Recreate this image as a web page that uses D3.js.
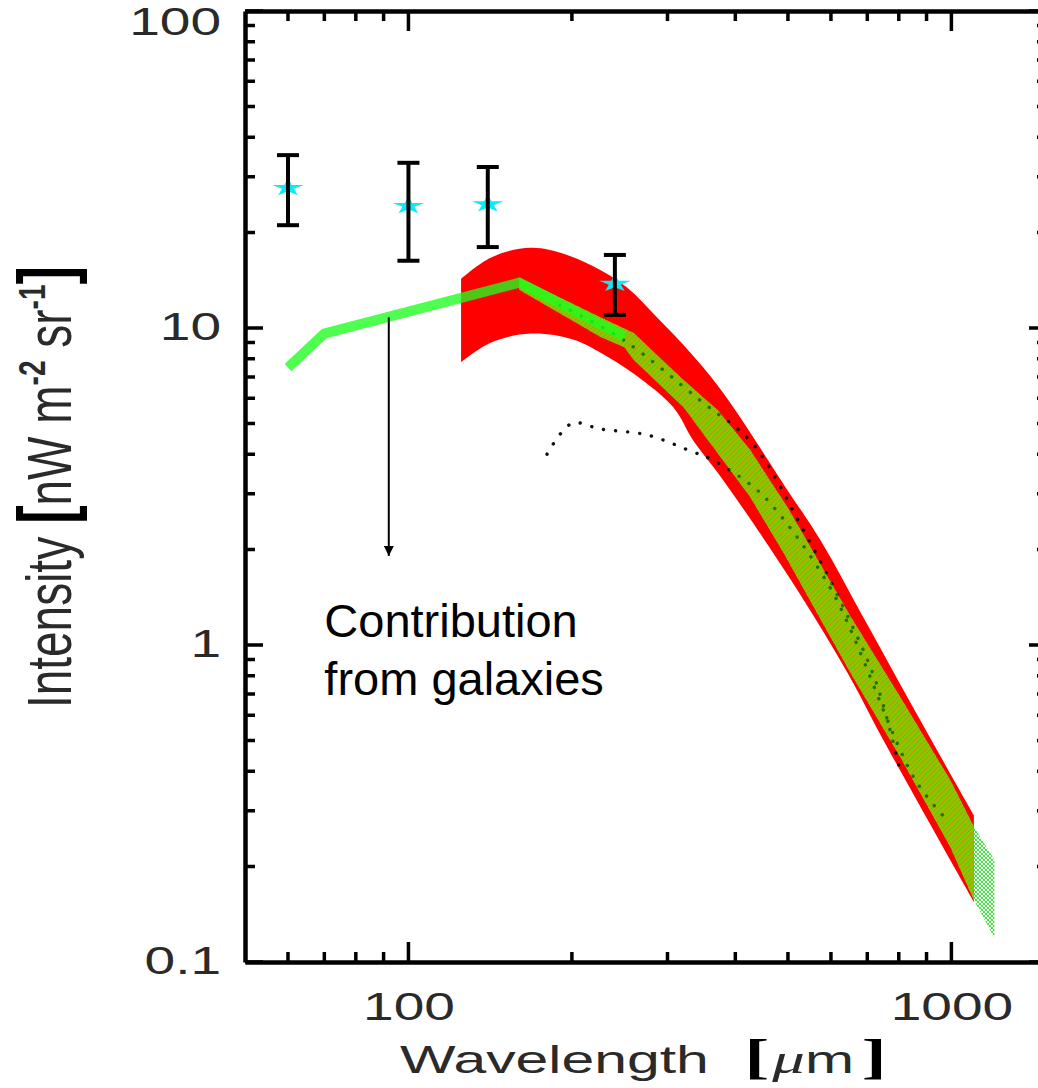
<!DOCTYPE html>
<html>
<head>
<meta charset="utf-8">
<script src="https://cdn.jsdelivr.net/npm/d3@7"></script>
<style>
  body { margin: 0; background: #fff; }
  svg { display: block; overflow: hidden; }
</style>
</head>
<body>
<div id="chart"></div>
<script>
// axis ticks
const xMajor = [100, 1000]
const xMinor = [60, 70, 80, 90, 200, 300, 400, 500, 600, 700, 800, 900]
const yMajor = [0.1, 1, 10, 100]
const yMinor = [0.2, 0.3, 0.4, 0.5, 0.6, 0.7, 0.8, 0.9, 2, 3, 4, 5, 6, 7, 8, 9, 20, 30, 40, 50, 60, 70, 80, 90]

// measured points with error bars
const obsWave = [60, 100, 140, 240]
const obsValue = [27.7, 24.3, 24.6, 13.8]
const obsHigh = [35.1, 33.2, 32.2, 17.0]
const obsLow = [21.1, 16.3, 18.0, 11.0]

// contribution from galaxies (thick green line)
const galWave = [60, 70, 160, 250]
const galValue = [7.5, 9.6, 13.9, 9.4]

// red band, upper and lower edge
const redHighWave = [125, 142, 168, 196, 226, 253, 287, 331, 380, 499, 574, 700, 866, 1100]
const redHigh = [14.3, 16.7, 17.9, 17.0, 15.2, 13.4, 10.8, 8.34, 6.24, 3.08, 2.14, 1.16, 0.60, 0.29]
const redLowWave = [125, 142, 168, 201, 233, 268, 308, 335, 371, 426, 527, 644, 750, 1100]
const redLow = [7.8, 9.0, 9.6, 9.2, 8.1, 6.9, 5.6, 4.4, 3.5, 2.5, 1.44, 0.816, 0.50, 0.155]

// green hatched band
const bandHighWave = [160, 226, 260, 321, 371, 426, 499, 652, 805, 995, 1100, 1200]
const bandHigh = [14.4, 10.8, 9.64, 6.86, 5.51, 4.12, 2.72, 1.23, 0.685, 0.375, 0.267, 0.21]
const bandLowWave = [160, 226, 250, 260, 321, 371, 426, 491, 652, 805, 995, 1100, 1200]
const bandLow = [13.2, 9.37, 8.7, 7.93, 5.63, 4.03, 2.93, 1.95, 0.816, 0.443, 0.231, 0.157, 0.119]

// dotted model curves
const dotAWave = [190, 248, 345, 431, 527, 652, 731, 805]
const dotAValue = [11.8, 9.2, 5.9, 4.3, 2.4, 1.18, 0.74, 0.40]
const dotBWave = [180, 200, 226, 275, 330, 367, 427, 464, 600, 858, 983]
const dotBValue = [4.0, 5.0, 4.8, 4.6, 4.1, 3.8, 3.2, 2.8, 1.5, 0.375, 0.28]

// arrow
const arrowWave = 92
const arrowFrom = 10.8
const arrowTo = 1.91

const width = 1038
const height = 1088
const frame = { left: 245, right: 1047, top: 11, bottom: 962 }
const axisFont = 'Liberation Sans, Arial, sans-serif'

const x = d3.scaleLog().domain([50, 1500]).range([frame.left, frame.right])
const y = d3.scaleLog().domain([0.1, 100]).range([frame.bottom, frame.top])

const svg = d3.select('#chart')
  .append('svg')
  .attr('width', width)
  .attr('height', height)

const line = curve => d3.line().x(d => x(d[0])).y(d => y(d[1])).curve(curve)

function bandPath(hiWave, hi, loWave, lo, curve) {
  const top = line(curve)(d3.zip(hiWave, hi))
  const bottom = line(curve)(d3.zip(loWave, lo).reverse())
  return top + 'L' + bottom.slice(1) + 'Z'
}

const redD = bandPath(redHighWave, redHigh, redLowWave, redLow, d3.curveCatmullRom)
const bandD = bandPath(bandHighWave, bandHigh, bandLowWave, bandLow, d3.curveLinear)

const defs = svg.append('defs')
const lattice = defs.append('pattern')
  .attr('id', 'lattice')
  .attr('patternUnits', 'userSpaceOnUse')
  .attr('width', 4)
  .attr('height', 4)
lattice.append('path')
  .attr('d', 'M-1,1 L1,-1 M0,4 L4,0 M3,5 L5,3 M-1,3 L1,5 M0,0 L4,4 M3,-1 L5,1')
  .attr('stroke', '#3ee83e')
  .attr('stroke-width', 1)
const stripes = defs.append('pattern')
  .attr('id', 'stripes')
  .attr('patternUnits', 'userSpaceOnUse')
  .attr('width', 5)
  .attr('height', 5)
stripes.append('path')
  .attr('d', 'M-1,1 L1,-1 M0,5 L5,0 M4,6 L6,4')
  .attr('stroke', '#e86400')
  .attr('stroke-width', 0.9)
defs.append('clipPath').attr('id', 'redClip').append('path').attr('d', redD)
defs.append('clipPath').attr('id', 'bandClip').append('path').attr('d', bandD)

defs.append('marker')
  .attr('id', 'arrow')
  .attr('viewBox', '0 0 10 10')
  .attr('refX', 10)
  .attr('refY', 5)
  .attr('markerUnits', 'userSpaceOnUse')
  .attr('markerWidth', 15)
  .attr('markerHeight', 10)
  .attr('orient', 'auto')
  .append('path')
  .attr('d', 'M0,0 L10,5 L0,10 z')
  .attr('fill', '#000')

// red band
svg.append('path')
  .attr('d', redD)
  .attr('fill', '#ff0000')

// dotted curves (black, under the green band)
const dotted = [[dotAWave, dotAValue], [dotBWave, dotBValue]]
function drawDotted(colour, clip) {
  dotted.forEach(([w, v]) => {
    svg.append('path')
      .attr('d', line(d3.curveCatmullRom)(d3.zip(w, v)))
      .attr('fill', 'none')
      .attr('stroke', colour)
      .attr('stroke-width', 3.4)
      .attr('stroke-linecap', 'round')
      .attr('stroke-dasharray', '0.1 12')
      .attr('clip-path', clip)
  })
}
drawDotted('#111', null)

// green hatched band
svg.append('path')
  .attr('d', bandD)
  .attr('fill', 'url(#lattice)')
svg.append('g')
  .attr('clip-path', 'url(#redClip)')
  .call(g => {
    g.append('path').attr('d', bandD).attr('fill', '#86c800')
    g.append('path').attr('d', bandD).attr('fill', 'url(#stripes)').attr('opacity', 0.55)
  })
drawDotted('#237000', 'url(#bandClip)')

// galaxies line
svg.append('path')
  .attr('d', line(d3.curveLinear)(d3.zip(galWave, galValue)))
  .attr('fill', 'none')
  .attr('stroke', '#1eff1e')
  .attr('stroke-opacity', 0.78)
  .attr('stroke-width', 10)

// arrow
svg.append('line')
  .attr('x1', x(arrowWave))
  .attr('x2', x(arrowWave))
  .attr('y1', y(arrowFrom))
  .attr('y2', y(arrowTo))
  .attr('stroke', '#000')
  .attr('stroke-width', 2)
  .attr('marker-end', 'url(#arrow)')

// stars and error bars
const star = d3.symbol().type(d3.symbolStar).size(130)
const obs = obsWave.map((w, i) => ({ w, v: obsValue[i], hi: obsHigh[i], lo: obsLow[i] }))

svg.selectAll('.star')
  .data(obs)
  .enter()
  .append('path')
  .attr('class', 'star')
  .attr('d', star)
  .attr('transform', d => `translate(${x(d.w)}, ${y(d.v)}) scale(1.55, 0.85)`)
  .attr('fill', '#10e8f8')

const bars = svg.selectAll('.bar')
  .data(obs)
  .enter()
  .append('g')
  .attr('class', 'bar')
  .attr('stroke', '#000')
  .attr('stroke-width', 4)
bars.append('line')
  .attr('x1', d => x(d.w)).attr('x2', d => x(d.w))
  .attr('y1', d => y(d.hi)).attr('y2', d => y(d.lo))
bars.append('line')
  .attr('x1', d => x(d.w) - 11).attr('x2', d => x(d.w) + 11)
  .attr('y1', d => y(d.hi)).attr('y2', d => y(d.hi))
bars.append('line')
  .attr('x1', d => x(d.w) - 11).attr('x2', d => x(d.w) + 11)
  .attr('y1', d => y(d.lo)).attr('y2', d => y(d.lo))

// frame and labels through d3 axes
function drawAxis(axis, tx, ty) {
  const g = svg.append('g')
    .attr('transform', `translate(${tx}, ${ty})`)
    .call(axis)
  g.select('.domain').attr('stroke-width', 4.5)
  return g
}

const fmtY = d => d < 1 ? d.toFixed(1) : String(d)

const bottom = drawAxis(d3.axisBottom(x).tickValues(xMajor).tickSize(0)
  .tickPadding(31).tickFormat(d3.format('d')), 0, frame.bottom)
drawAxis(d3.axisTop(x).tickValues([]).tickSize(0), 0, frame.top)
const left = drawAxis(d3.axisLeft(y).tickValues(yMajor).tickSize(0)
  .tickPadding(16.5).tickFormat(fmtY), frame.left, 0)
drawAxis(d3.axisRight(y).tickValues([]).tickSize(0), frame.right, 0)

;[bottom, left].forEach(g => {
  g.selectAll('text')
    .attr('font-family', axisFont)
    .attr('font-size', 38)
    .attr('fill', '#2a2a2a')
    .attr('transform', 'scale(1.45, 1)')
})
left.selectAll('text').attr('dy', d => d === 100 ? '0.62em' : '0.3em')

// inward tick marks on all four sides, one path
const tickPath = []
xMajor.forEach(d => {
  const px = x(d)
  tickPath.push(`M${px},${frame.bottom}V${frame.bottom - 20}`, `M${px},${frame.top}V${frame.top + 20}`)
})
xMinor.forEach(d => {
  const px = x(d)
  tickPath.push(`M${px},${frame.bottom}V${frame.bottom - 10}`, `M${px},${frame.top}V${frame.top + 10}`)
})
yMajor.forEach(d => {
  const py = y(d)
  tickPath.push(`M${frame.left},${py}H${frame.left + 18}`, `M${frame.right},${py}H${frame.right - 18}`)
})
yMinor.forEach(d => {
  const py = y(d)
  tickPath.push(`M${frame.left},${py}H${frame.left + 10}`, `M${frame.right},${py}H${frame.right - 10}`)
})
svg.append('path')
  .attr('d', tickPath.join(''))
  .attr('fill', 'none')
  .attr('stroke', '#000')
  .attr('stroke-width', 3.5)

// axis titles
const xTitle = svg.append('text')
  .attr('transform', 'translate(400, 1073) scale(1.55, 1)')
  .attr('font-family', axisFont)
  .attr('font-size', 38)
  .attr('fill', '#2a2a2a')
xTitle.append('tspan').text('Wavelength')
xTitle.append('tspan')
  .attr('dx', 23)
  .attr('font-family', 'Liberation Serif, serif')
  .attr('font-weight', 'bold')
  .attr('font-size', 48)
  .attr('fill', '#000')
  .text('[')
xTitle.append('tspan')
  .attr('dx', 2)
  .attr('font-family', 'Liberation Serif, serif')
  .attr('font-style', 'italic')
  .attr('font-size', 42)
  .text('μ')
xTitle.append('tspan').text('m')
xTitle.append('tspan')
  .attr('dx', 5)
  .attr('font-family', 'Liberation Serif, serif')
  .attr('font-weight', 'bold')
  .attr('font-size', 48)
  .attr('fill', '#000')
  .text(']')

const yTitle = svg.append('text')
  .attr('transform', 'translate(71, 487) rotate(-90) scale(1, 1.35)')
  .attr('text-anchor', 'middle')
  .attr('font-family', axisFont)
  .attr('font-size', 46)
  .attr('fill', '#2a2a2a')
yTitle.append('tspan').text('Intensity ')
yTitle.append('tspan').attr('font-weight', 'bold').attr('font-size', 56).attr('fill', '#000').text('[')
yTitle.append('tspan').text('nW m')
yTitle.append('tspan').attr('font-size', 28).attr('font-weight', 'bold').attr('dy', -19).text('-2')
yTitle.append('tspan').attr('dy', 19).text(' sr')
yTitle.append('tspan').attr('font-size', 28).attr('font-weight', 'bold').attr('dy', -19).text('-1')
yTitle.append('tspan').attr('dy', 19).attr('font-weight', 'bold').attr('font-size', 56).attr('fill', '#000').text(']')

// annotation
const note = svg.append('text')
  .attr('font-family', 'Liberation Sans, Arial, sans-serif')
  .attr('font-size', 47)
  .attr('fill', '#000')
note.append('tspan').attr('x', x(70)).attr('y', 637).text('Contribution')
note.append('tspan').attr('x', x(70)).attr('y', 695).text('from galaxies')
</script>
</body>
</html>
